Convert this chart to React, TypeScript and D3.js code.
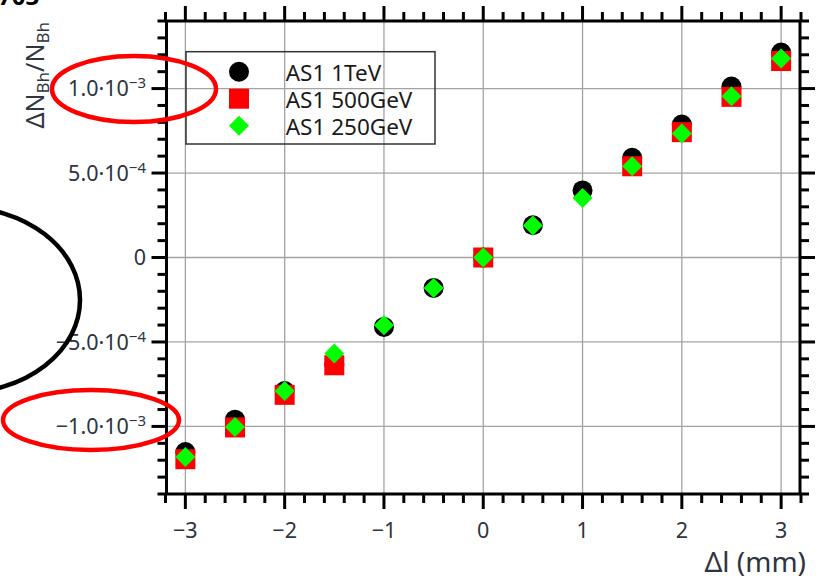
import React from "react";
import * as d3 from "d3";

// Shift of the track length (mm)
const deltaL = [-3, -2.5, -2, -1.5, -1, -0.5, 0, 0.5, 1, 1.5, 2, 2.5, 3];

// Relative change of the number of hits, per beam energy (null = no point)
const as1TeV1 = [-1.152e-3, -0.96e-3, -0.79e-3, -0.635e-3, -0.411e-3, -0.18e-3, 0, 0.191e-3, 0.397e-3, 0.59e-3, 0.787e-3, 1.012e-3, 1.213e-3];
const as1GeV500 = [-1.194e-3, -1.006e-3, -0.813e-3, -0.638e-3, null, null, 0, null, null, 0.54e-3, 0.742e-3, 0.951e-3, 1.163e-3];
const as1GeV250 = [-1.181e-3, -1.003e-3, -0.79e-3, -0.569e-3, -0.401e-3, -0.18e-3, 0, 0.19e-3, 0.352e-3, 0.54e-3, 0.734e-3, 0.955e-3, 1.178e-3];

const seriesNames = ["AS1 1TeV", "AS1 500GeV", "AS1 250GeV"];

// Axis ticks
const xTicks = [-3, -2, -1, 0, 1, 2, 3];
const yTicks = [-1e-3, -5e-4, 0, 5e-4, 1e-3];

const W = 819;
const H = 579;
const frame = { left: 166.5, right: 800, top: 21, bottom: 494 };

const x = d3.scaleLinear().domain([-3.19, 3.19]).range([frame.left, frame.right]);
const y = d3.scaleLinear().domain([-1.4e-3, 1.4e-3]).range([frame.bottom, frame.top]);

const FONT = "'Noto Sans', 'Open Sans', sans-serif";
const TEXT = "#2e3440";
const GRID = "#a3a3a3";

function splitSci(v: number): [string, string | null] {
  if (v === 0) return ["0", null];
  const exp = Math.floor(Math.log10(Math.abs(v)));
  const mant = v / Math.pow(10, exp);
  const sign = mant < 0 ? "\u2212" : "";
  return [`${sign}${Math.abs(mant).toFixed(1)}\u00b710`, `\u2212${Math.abs(exp)}`];
}

function Circle({ cx, cy }: { cx: number; cy: number }) {
  return <circle cx={cx} cy={cy} r={10} fill="#000" />;
}
function Square({ cx, cy }: { cx: number; cy: number }) {
  return <rect x={cx - 10} y={cy - 10} width={20} height={20} fill="#ff0000" />;
}
function Diamond({ cx, cy }: { cx: number; cy: number }) {
  const d = 10;
  return <path d={`M${cx},${cy - d}L${cx + d},${cy}L${cx},${cy + d}L${cx - d},${cy}Z`} fill="#00ff00" />;
}

export default function App() {
  const xMinor = d3.range(-3.2, 3.21, 0.2).map((v) => +v.toFixed(2));
  const yMinor = d3.range(-14, 15, 1).map((v) => v * 1e-4);
  const isXMajor = (v: number) => Math.abs(v - Math.round(v)) < 1e-6;
  const isYMajor = (v: number) => Math.abs(v / 5e-4 - Math.round(v / 5e-4)) < 1e-6;

  const series = [
    { values: as1TeV1, Mark: Circle },
    { values: as1GeV500, Mark: Square },
    { values: as1GeV250, Mark: Diamond },
  ];

  const legendX = 239;
  const legendRows = [71.7, 98.7, 125.7];

  return (
    <svg
      width={W}
      height={H}
      viewBox={`0 0 ${W} ${H}`}
      style={{ position: "absolute", left: 0, top: 0, background: "#fff" }}
    >
      <rect width={W} height={H} fill="#fff" />

      {/* grid */}
      <g stroke={GRID} strokeWidth={1.3}>
        {xTicks.map((t) => (
          <line key={"gx" + t} x1={x(t)} x2={x(t)} y1={frame.top} y2={frame.bottom} />
        ))}
        {yTicks.map((t) => (
          <line key={"gy" + t} x1={frame.left} x2={frame.right} y1={y(t)} y2={y(t)} />
        ))}
      </g>

      {/* ticks, pointing outward on all four sides */}
      <g stroke="#000" strokeWidth={3}>
        {xMinor.map((t) => {
          const len = isXMajor(t) ? 15 : 9;
          return (
            <g key={"tx" + t}>
              <line x1={x(t)} x2={x(t)} y1={frame.bottom} y2={frame.bottom + len} />
              <line x1={x(t)} x2={x(t)} y1={frame.top} y2={frame.top - len} />
            </g>
          );
        })}
        {yMinor.map((t) => {
          const len = isYMajor(t) ? 15 : 9;
          return (
            <g key={"ty" + t}>
              <line x1={frame.left} x2={frame.left - len} y1={y(t)} y2={y(t)} />
              <line x1={frame.right} x2={frame.right + len} y1={y(t)} y2={y(t)} />
            </g>
          );
        })}
      </g>

      {/* frame */}
      <rect
        x={frame.left}
        y={frame.top}
        width={frame.right - frame.left}
        height={frame.bottom - frame.top}
        fill="none"
        stroke="#000"
        strokeWidth={3}
      />

      {/* x tick labels */}
      <g fontFamily={FONT} fontSize={21.5} fill={TEXT} textAnchor="middle">
        {xTicks.map((t) => (
          <text key={"lx" + t} x={x(t)} y={538}>
            {t < 0 ? "\u2212" + Math.abs(t) : String(t)}
          </text>
        ))}
      </g>

      {/* y tick labels */}
      <g fontFamily={FONT} fontSize={21.5} fill={TEXT} textAnchor="end">
        {yTicks.map((t) => {
          const [base, exp] = splitSci(t);
          return (
            <text key={"ly" + t} x={146} y={y(t) + 7.7}>
              {base}
              {exp && (
                <tspan fontSize={15} dy={-8}>
                  {exp}
                </tspan>
              )}
            </text>
          );
        })}
      </g>

      {/* axis titles */}
      <text
        fontFamily={FONT}
        fontSize={25}
        fill={TEXT}
        textAnchor="end"
        transform={`translate(44,${frame.top + 1}) rotate(-90)`}
      >
        ΔN
        <tspan fontSize={17} dy={5}>Bh</tspan>
        <tspan dy={-5}>/N</tspan>
        <tspan fontSize={17} dy={5}>Bh</tspan>
      </text>
      <text x={806} y={572} fontFamily={FONT} fontSize={28} fill={TEXT} textAnchor="end">
        Δl (mm)
      </text>

      {/* data points */}
      {series.map(({ values, Mark }, si) => (
        <g key={"s" + si}>
          {deltaL.map((dl, i) => {
            const v = values[i];
            if (v === null || v === undefined) return null;
            return <Mark key={i} cx={x(dl)} cy={y(v)} />;
          })}
        </g>
      ))}

      {/* legend */}
      <rect x={186} y={51.7} width={249} height={92.3} fill="none" stroke="#333" strokeWidth={1.5} />
      <Circle cx={legendX} cy={legendRows[0]} />
      <Square cx={legendX} cy={legendRows[1]} />
      <Diamond cx={legendX} cy={legendRows[2]} />
      <g fontFamily={FONT} fontSize={22.5} fill="#1a1a1a">
        {seriesNames.map((name, i) => (
          <text key={name} x={285.7} y={legendRows[i] + 9.5}>
            {name}
          </text>
        ))}
      </g>

      {/* hand-drawn highlights */}
      <text x={-2} y={5} fontFamily={FONT} fontSize={24} fontWeight="bold" fill="#000">
        703
      </text>
      <ellipse cx={134} cy={89} rx={82} ry={33} fill="none" stroke="#ff0000" strokeWidth={4.5} />
      <ellipse cx={91} cy={420} rx={88} ry={30} fill="none" stroke="#ff0000" strokeWidth={4.5} />
      <ellipse cx={-40} cy={300} rx={120} ry={93} fill="none" stroke="#000" strokeWidth={4.5} />
    </svg>
  );
}
